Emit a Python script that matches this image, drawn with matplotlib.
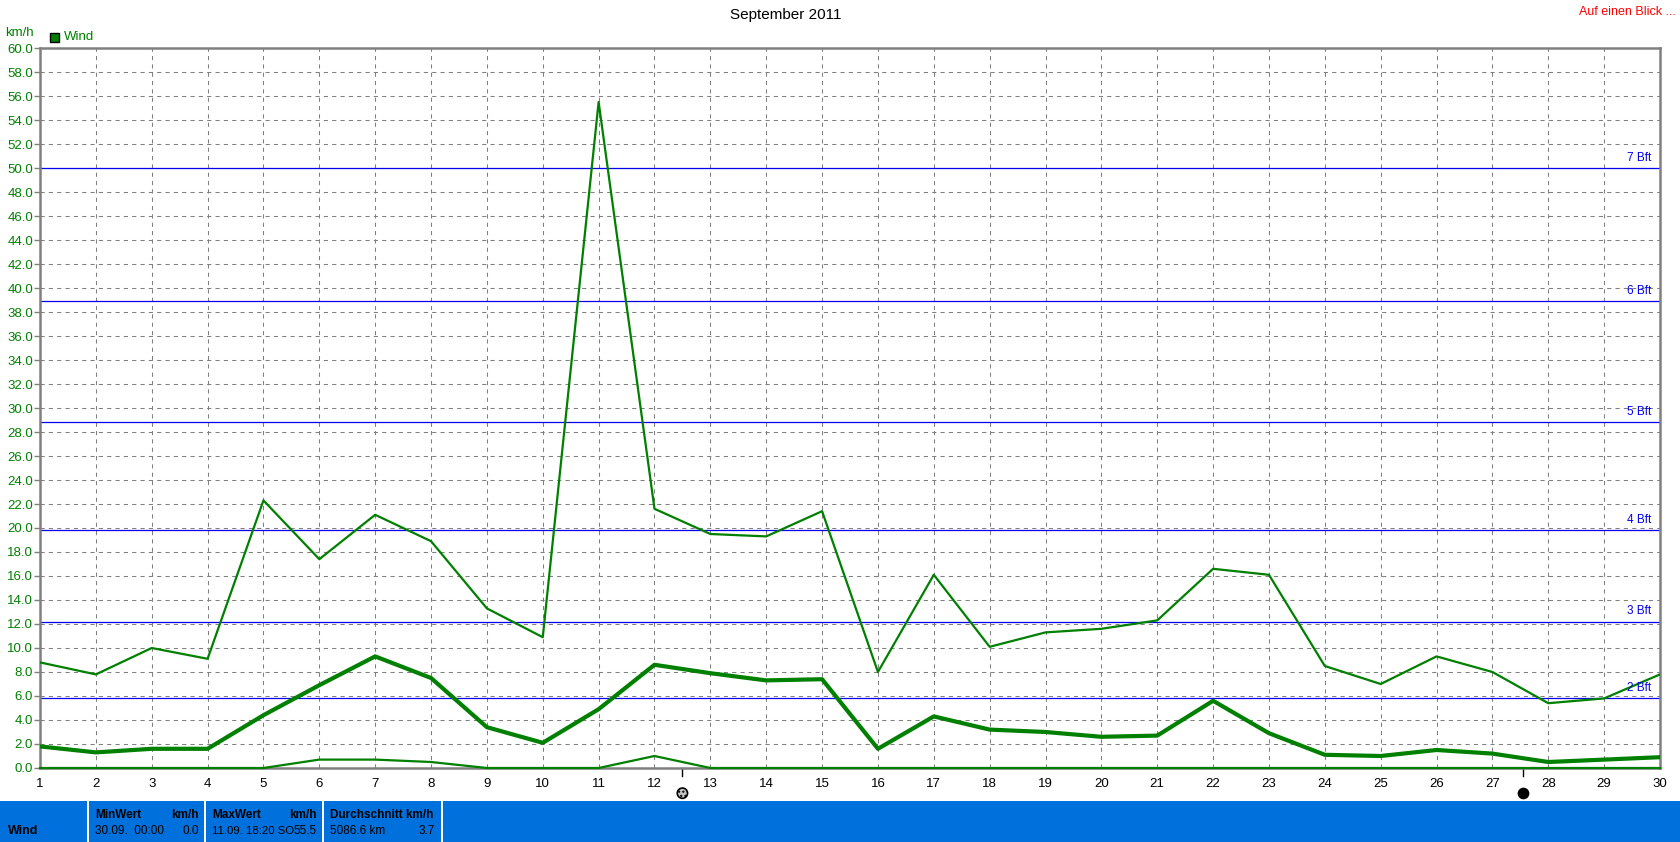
import matplotlib
matplotlib.use('Agg')
import matplotlib.pyplot as plt
from matplotlib.patches import Rectangle

# data
days = list(range(1, 31))
wind_max = [8.8, 7.8, 10.0, 9.1, 22.3, 17.4, 21.1, 18.9, 13.3, 10.9,
            55.5, 21.6, 19.5, 19.3, 21.4, 8.0, 16.1, 10.1, 11.3, 11.6,
            12.3, 16.6, 16.1, 8.5, 7.0, 9.3, 8.0, 5.4, 5.8, 7.8]
wind_avg = [1.8, 1.3, 1.6, 1.6, 4.4, 6.9, 9.3, 7.5, 3.4, 2.1,
            4.9, 8.6, 7.9, 7.3, 7.4, 1.6, 4.3, 3.2, 3.0, 2.6,
            2.7, 5.6, 2.9, 1.1, 1.0, 1.5, 1.2, 0.5, 0.7, 0.9]
wind_min = [0.0, 0.0, 0.0, 0.0, 0.0, 0.7, 0.7, 0.5, 0.0, 0.0,
            0.0, 1.0, 0.0, 0.0, 0.0, 0.0, 0.0, 0.0, 0.0, 0.0,
            0.0, 0.0, 0.0, 0.0, 0.0, 0.0, 0.0, 0.0, 0.0, 0.0]
bft_levels = [5.8, 12.2, 19.8, 28.8, 38.9, 50.0]
bft_labels = ['2 Bft', '3 Bft', '4 Bft', '5 Bft', '6 Bft', '7 Bft']
moon_days = [12.5, 27.55]
moon_kind = ['full', 'new']

W, H = 1680, 842
GREEN = '#008000'
BLUE_BAR = '#0070DD'

plt.rcParams['font.family'] = ['Liberation Sans', 'DejaVu Sans']

fig = plt.figure(figsize=(W / 100, H / 100), dpi=100)


def fx(px):
    return px / W


def fy(py):
    return 1 - py / H


# plot area: x 40..1660, y 48..768
ax = fig.add_axes([fx(40), fy(768), (1660 - 40) / W, (768 - 48) / H])
ax.set_xlim(1, 30)
ax.set_ylim(0, 60)

ax.set_yticks([v * 2 for v in range(31)])
ax.set_yticklabels([f'{v * 2:.1f}' for v in range(31)], color=GREEN, fontsize=9.5)
ax.set_xticks(days)
ax.set_xticklabels([str(d) for d in days], color='black', fontsize=9.5)
ax.tick_params(axis='y', length=4, width=1, color='#808080', pad=1)
ax.tick_params(axis='x', length=0, pad=7)
ax.grid(True, color='#808080', linestyle=(0, (4, 4)), linewidth=0.75)
ax.set_axisbelow(True)
for s in ax.spines.values():
    s.set_color('#808080')
    s.set_linewidth(1.8)

# beaufort lines
for lvl, lab in zip(bft_levels, bft_labels):
    ax.axhline(lvl, color='#0000EE', linewidth=0.9, zorder=2)
    ax.text(29.85, lvl + 0.35, lab, color='#0000EE', fontsize=8.5, ha='right', va='bottom', zorder=5)

ax.plot(days, wind_max, color=GREEN, linewidth=1.6, zorder=3)
ax.plot(days, wind_avg, color=GREEN, linewidth=3, zorder=3)
ax.plot(days, wind_min, color=GREEN, linewidth=1.6, zorder=3, clip_on=False)

# moon phase markers below the axis
tr = ax.get_xaxis_transform()
for d, k in zip(moon_days, moon_kind):
    ax.plot([d, d], [0, -0.011], color='black', linewidth=1, transform=tr, clip_on=False)
    if k == 'full':
        ax.scatter([d], [-0.035], s=55, color='#c8c8c8', edgecolors='black', linewidths=1.2,
                   hatch='....', transform=tr, clip_on=False, zorder=5)
    else:
        ax.scatter([d], [-0.035], s=55, color='black', edgecolors='black',
                   transform=tr, clip_on=False, zorder=5)

# header texts
fig.text(fx(786), fy(15), 'September 2011', fontsize=11, ha='center', va='center')
fig.text(fx(1676), fy(12), 'Auf einen Blick ...', fontsize=9, color='red', ha='right', va='center')
fig.text(fx(5), fy(33), 'km/h', fontsize=9.5, color=GREEN, ha='left', va='center')
fig.patches.append(Rectangle((fx(50), fy(42)), 9 / W, 9 / H, facecolor=GREEN,
                             edgecolor='black', linewidth=1, transform=fig.transFigure))
fig.text(fx(64), fy(37), 'Wind', fontsize=9.5, color=GREEN, ha='left', va='center')

# statistics bar at the bottom
bar_top = 801
fig.patches.append(Rectangle((0, 0), 1, (H - bar_top) / H, facecolor=BLUE_BAR,
                             edgecolor='none', transform=fig.transFigure))
for sx in [88, 205, 323, 442]:
    fig.patches.append(Rectangle((fx(sx - 1), 0), 1.5 / W, (H - bar_top) / H,
                                 facecolor='white', edgecolor='none', transform=fig.transFigure))

r1, r2 = fy(815), fy(831)
fs = 8.5
fig.text(fx(8), r2, 'Wind', fontsize=fs + 0.5, weight='bold', va='center')
fig.text(fx(95), r1, 'MinWert', fontsize=fs, weight='bold', va='center')
fig.text(fx(199), r1, 'km/h', fontsize=fs, weight='bold', va='center', ha='right')
fig.text(fx(95), r2, '30.09.  00:00', fontsize=fs, va='center')
fig.text(fx(199), r2, '0.0', fontsize=fs, va='center', ha='right')
fig.text(fx(212), r1, 'MaxWert', fontsize=fs, weight='bold', va='center')
fig.text(fx(317), r1, 'km/h', fontsize=fs, weight='bold', va='center', ha='right')
fig.text(fx(212), r2, '11.09. 18:20 SO', fontsize=fs - 0.3, va='center')
fig.text(fx(317), r2, '55.5', fontsize=fs, va='center', ha='right')
fig.text(fx(330), r1, 'Durchschnitt km/h', fontsize=fs, weight='bold', va='center')
fig.text(fx(330), r2, '5086.6 km', fontsize=fs, va='center')
fig.text(fx(435), r2, '3.7', fontsize=fs, va='center', ha='right')

fig.savefig('out.png', dpi=100)
